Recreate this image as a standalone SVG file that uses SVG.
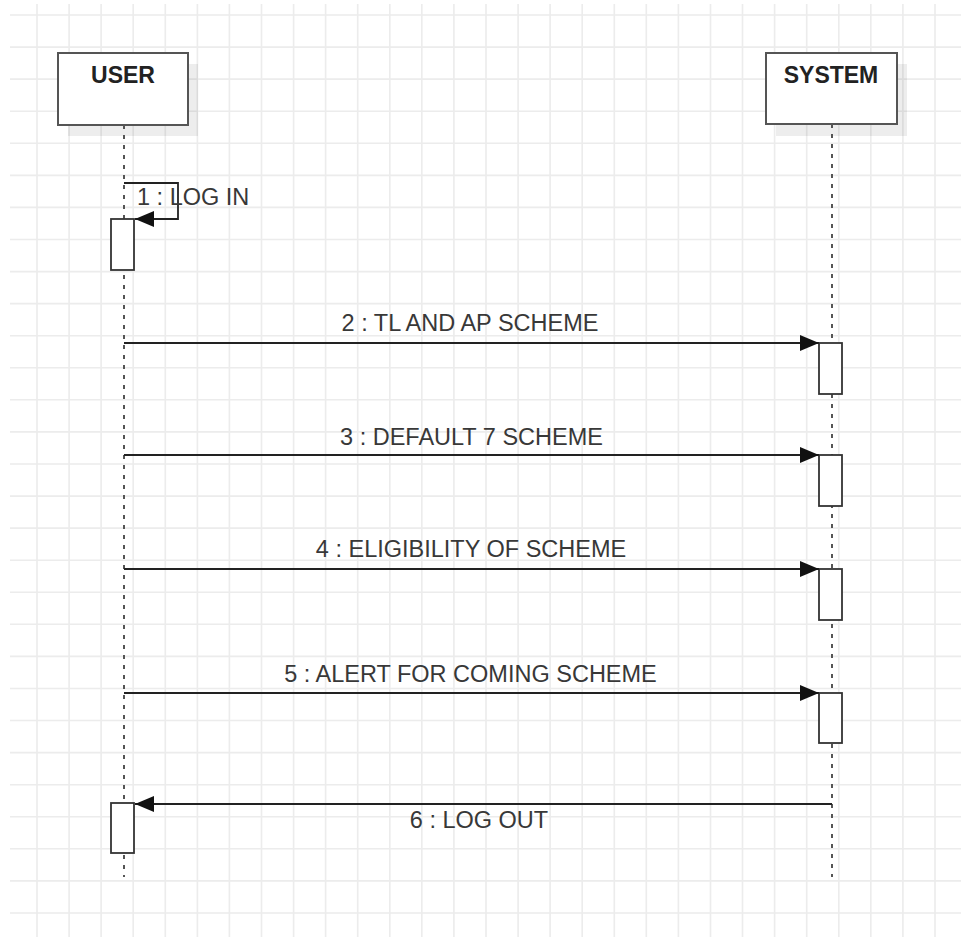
<svg xmlns="http://www.w3.org/2000/svg" width="961" height="937" viewBox="0 0 961 937">
<style>
.grid{stroke:#ececec;stroke-width:1.6;fill:none}
.head{fill:#fff;stroke:#555;stroke-width:2}
.shadow{fill:#000;opacity:0.07}
.htext{font-family:"Liberation Sans",Arial,sans-serif;font-size:23px;font-weight:bold;fill:#222;text-anchor:middle}
.life{stroke:#555;stroke-width:2;stroke-dasharray:4 6;fill:none}
.act{fill:#fff;stroke:#333;stroke-width:1.8}
.msg{stroke:#222;stroke-width:1.8;fill:none;marker-end:url(#arr)}
.lbl{font-family:"Liberation Sans",Arial,sans-serif;font-size:23.5px;fill:#383838;text-anchor:middle}
</style>
<defs>
<marker id="arr" markerUnits="userSpaceOnUse" viewBox="0 0 19 16" markerWidth="19" markerHeight="16" refX="19" refY="8" orient="auto">
<path d="M0 0L19 8L0 16Z" fill="#111"/>
</marker>
</defs>
<rect width="961" height="937" fill="#fff"/>
<path class="grid" d="M37 4V937M69.1 4V937M101.1 4V937M133.2 4V937M165.3 4V937M197.4 4V937M229.4 4V937M261.5 4V937M293.6 4V937M325.6 4V937M357.7 4V937M389.8 4V937M421.8 4V937M453.9 4V937M486 4V937M518.1 4V937M550.1 4V937M582.2 4V937M614.3 4V937M646.3 4V937M678.4 4V937M710.5 4V937M742.5 4V937M774.6 4V937M806.7 4V937M838.8 4V937M870.8 4V937M902.9 4V937M935 4V937M10 15H961M10 47.1H961M10 79.1H961M10 111.2H961M10 143.3H961M10 175.4H961M10 207.4H961M10 239.5H961M10 271.6H961M10 303.6H961M10 335.7H961M10 367.8H961M10 399.8H961M10 431.9H961M10 464H961M10 496.1H961M10 528.1H961M10 560.2H961M10 592.3H961M10 624.3H961M10 656.4H961M10 688.5H961M10 720.5H961M10 752.6H961M10 784.7H961M10 816.8H961M10 848.8H961M10 880.9H961M10 913H961"/>
<g id="user">
<rect class="shadow" x="68" y="64" width="130" height="72"/>
<rect class="head" x="58" y="53" width="130" height="72"/>
<text class="htext" x="123" y="83">USER</text>
<line class="life" x1="124" y1="125" x2="124" y2="877"/>
<rect class="act" x="111" y="219" width="23" height="51"/>
<rect class="act" x="111" y="803" width="23" height="50"/>
</g>
<g id="system">
<rect class="shadow" x="776" y="64" width="131" height="72"/>
<rect class="head" x="766" y="53" width="131" height="71"/>
<text class="htext" x="831" y="83">SYSTEM</text>
<line class="life" x1="832" y1="124" x2="832" y2="877"/>
<rect class="act" x="819" y="343" width="23" height="51"/>
<rect class="act" x="819" y="455" width="23" height="51"/>
<rect class="act" x="819" y="569" width="23" height="51"/>
<rect class="act" x="819" y="693" width="23" height="50"/>
</g>
<g id="connectors">
<path class="msg" d="M124 183H178V219H135"/>
<text class="lbl" x="137" y="205" style="text-anchor:start">1 : LOG IN</text>
<path class="msg" d="M124 343H819"/>
<text class="lbl" x="470" y="331">2 : TL AND AP SCHEME</text>
<path class="msg" d="M124 455H819"/>
<text class="lbl" x="471.5" y="445">3 : DEFAULT 7 SCHEME</text>
<path class="msg" d="M124 569H819"/>
<text class="lbl" x="471" y="557">4 : ELIGIBILITY OF SCHEME</text>
<path class="msg" d="M124 693H819"/>
<text class="lbl" x="470.5" y="681.5">5 : ALERT FOR COMING SCHEME</text>
<path class="msg" d="M832 804H135"/>
<text class="lbl" x="479" y="828">6 : LOG OUT</text>
</g>
</svg>
